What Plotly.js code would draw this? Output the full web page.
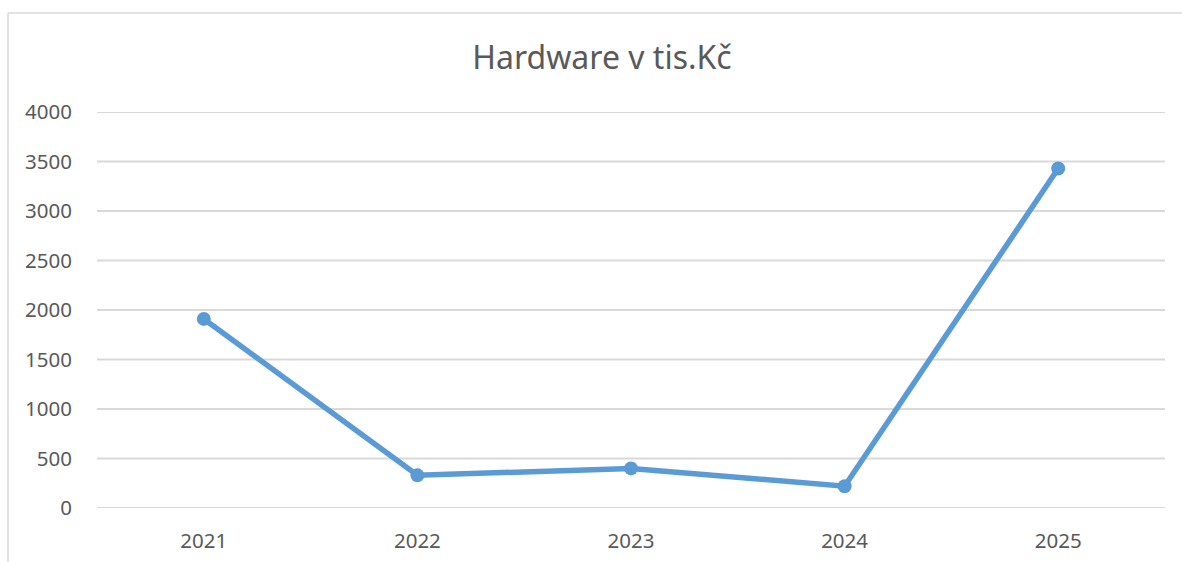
<!DOCTYPE html>
<html>
<head>
<meta charset="utf-8">
<script src="https://cdn.plot.ly/plotly-3.0.1.min.js"></script>
<style>
html,body{margin:0;padding:0;background:#fff;}
#chart{width:1182px;height:562px;}
</style>
</head>
<body>
<div id="chart"></div>
<script>
const years = ["2021", "2022", "2023", "2024", "2025"];
const hardware = [1910, 330, 400, 220, 3430];
const yTicks = [0, 500, 1000, 1500, 2000, 2500, 3000, 3500, 4000];

const W = 1182, H = 562;
const mL = 97, mR = 17, mT = 112, mB = 54;
const pw = W - mL - mR, ph = H - mT - mB;
const px = v => (v - mL) / pw;
const py = v => (H - mB - v) / ph;

const trace = {
  x: years,
  y: hardware,
  type: 'scatter',
  mode: 'lines+markers',
  line: {color: '#5B9BD5', width: 5.5},
  marker: {color: '#5B9BD5', size: 14},
  hoverinfo: 'x+y',
  cliponaxis: false
};

const gridShapes = yTicks.map(v => ({
  type: 'line', xref: 'paper', yref: 'y', x0: 0, x1: 1, y0: v, y1: v,
  layer: 'below', line: {color: '#d9d9d9', width: 2}
}));

const layout = {
  width: W, height: H,
  margin: {l: mL, r: mR, t: mT, b: mB},
  paper_bgcolor: '#ffffff',
  plot_bgcolor: '#ffffff',
  showlegend: false,
  font: {family: 'Noto Sans, sans-serif', color: '#595959'},
  title: {
    text: 'Hardware v tis.Kč',
    font: {size: 32, color: '#595959', family: 'Noto Sans, sans-serif'},
    x: 602 / W, xanchor: 'center',
    y: 1 - 58 / H, yanchor: 'middle', yref: 'container'
  },
  xaxis: {
    type: 'category',
    range: [-0.5, 4.5],
    showgrid: false,
    zeroline: false,
    showline: false,
    ticks: 'outside', ticklen: 14, tickcolor: 'rgba(0,0,0,0)',
    tickfont: {size: 20.5, color: '#595959'},
    fixedrange: true
  },
  yaxis: {
    range: [0, 4000],
    tickvals: yTicks,
    ticktext: yTicks.map(String),
    showgrid: false,
    zeroline: false,
    showline: false,
    ticks: 'outside', ticklen: 20, tickcolor: 'rgba(0,0,0,0)',
    tickfont: {size: 20.5, color: '#595959'},
    fixedrange: true
  },
  shapes: gridShapes.concat([
    {type: 'line', xref: 'paper', yref: 'paper', x0: px(8), x1: px(W + 5), y0: py(13), y1: py(13), line: {color: '#d9d9d9', width: 1.5}},
    {type: 'line', xref: 'paper', yref: 'paper', x0: px(8), x1: px(8), y0: py(13), y1: py(H + 5), line: {color: '#d9d9d9', width: 1.5}}
  ])
};

Plotly.newPlot('chart', [trace], layout, {displayModeBar: false, staticPlot: true});
</script>
</body>
</html>
